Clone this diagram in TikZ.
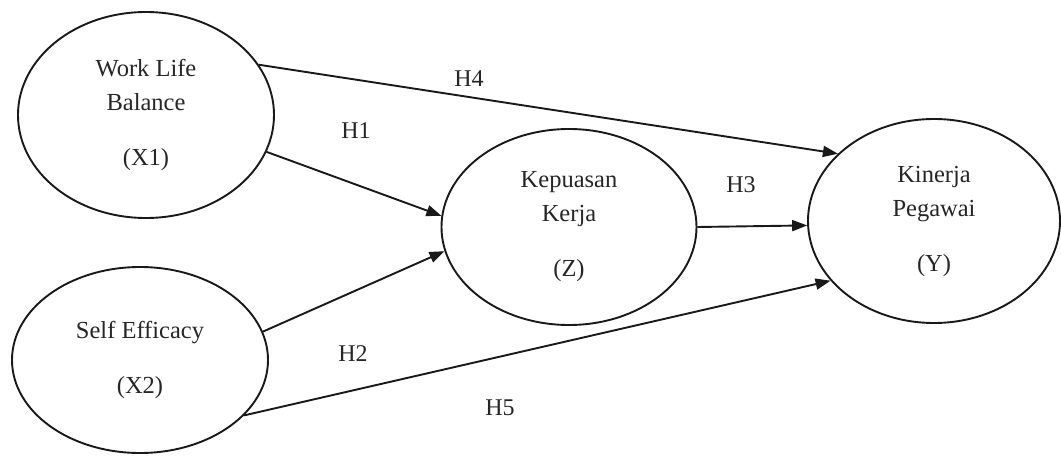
\documentclass[tikz,border=0pt]{standalone}
\usepackage{fontspec}
\setmainfont{Liberation Serif}
\usetikzlibrary{arrows.meta,shapes.geometric}
\begin{document}
\begin{tikzpicture}[x=1pt,y=1pt,
  construct/.style={draw=black!90,line width=1.9pt,ellipse,inner sep=0pt,align=center,
    font=\fontsize{24.5}{34}\selectfont,text=black!85},
  hlabel/.style={font=\fontsize{24}{28}\selectfont,text=black!85,inner sep=0pt},
  path/.style={draw=black!90,line width=1.9pt,-{Triangle[length=15pt,width=11pt]}}]
\useasboundingbox (0,0) rectangle (1061,-458);
\node[construct,minimum width=256pt,minimum height=206pt] (X1) at (146,-115) {Work Life\\Balance\\[21pt](X1)};
\node[construct,minimum width=256pt,minimum height=186pt] (X2) at (140,-360) {Self Efficacy\\[21pt](X2)};
\node[construct,minimum width=255pt,minimum height=196pt] (Z) at (569,-227) {Kepuasan\\Kerja\\[21pt](Z)};
\node[construct,minimum width=252pt,minimum height=204pt] (Y) at (934,-221) {Kinerja\\Pegawai\\[21pt](Y)};
\draw[path] (X1.24) -- (Y.145);
\draw[path] (X1.-17) -- (Z.175);
\draw[path] (X2.13) -- (Z.191);
\draw[path] (Z.0) -- (Y.182);
\draw[path] (X2.-28) -- (Y.210);
\node[hlabel] (h4) at (469,-79) {H4};
\node[hlabel] (h1) at (356,-131) {H1};
\node[hlabel] (h3) at (741,-185) {H3};
\node[hlabel] (h2) at (353,-354) {H2};
\node[hlabel] (h5) at (500,-408) {H5};
\end{tikzpicture}
\end{document}
